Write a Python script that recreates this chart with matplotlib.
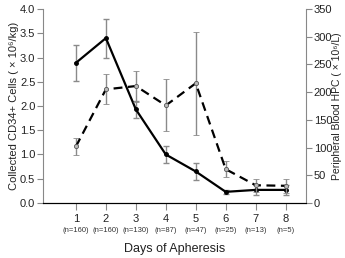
import matplotlib.pyplot as plt

plt.rcParams['font.family'] = ['Liberation Sans', 'DejaVu Sans']

# data
days = [1, 2, 3, 4, 5, 6, 7, 8]
n_labels = ['(n=160)', '(n=160)', '(n=130)', '(n=87)', '(n=47)', '(n=25)', '(n=13)', '(n=5)']
cd34 = [2.89, 3.40, 1.93, 1.00, 0.65, 0.23, 0.27, 0.27]
cd34_err = [0.37, 0.40, 0.18, 0.18, 0.17, 0.04, 0.10, 0.10]
hpc = [102, 205, 211, 176, 216, 61, 32, 31]
hpc_err = [15, 27, 28, 47, 93, 14, 12, 13]

fig = plt.figure(figsize=(3.45, 2.58), dpi=100)
ax = fig.add_axes([0.1246, 0.2132, 0.7623, 0.7519])
ax2 = ax.twinx()

ax.errorbar(days, cd34, yerr=cd34_err, color='black', lw=1.6, marker='o', ms=2.5,
            ecolor='#8a8a8a', elinewidth=1.0, capsize=2.5, capthick=1.0, zorder=3)
ax2.errorbar(days, hpc, yerr=hpc_err, color='black', lw=1.6, ls=(0, (4, 2.5)),
             marker='o', ms=3, mfc='#bbbbbb', mec='#555555', mew=0.6,
             ecolor='#8a8a8a', elinewidth=1.0, capsize=2.5, capthick=1.0, zorder=3)

ax.set_xlim(-0.1, 8.68)
ax.set_ylim(0, 4.0)
ax.set_yticks([0, 0.5, 1.0, 1.5, 2.0, 2.5, 3.0, 3.5, 4.0])
ax.set_yticklabels(['0.0', '0.5', '1.0', '1.5', '2.0', '2.5', '3.0', '3.5', '4.0'])
ax2.set_ylim(0, 350)
ax2.set_yticks(range(0, 351, 50))

ax.set_xticks(days)
ax.set_xticklabels([str(d) for d in days])
for d, lab in zip(days, n_labels):
    ax.text(d, -0.123, lab, transform=ax.get_xaxis_transform(), ha='center', va='top',
            fontsize=5.5, color='#333333')

for a in (ax, ax2):
    a.spines['top'].set_visible(False)
    a.tick_params(labelsize=8, length=4, width=0.8, colors='#888888',
                  labelcolor='#222222', pad=1.5)
ax.spines['right'].set_visible(False)
ax2.spines['left'].set_visible(False)
ax2.spines['right'].set_color('#888888')
ax.spines['left'].set_color('#888888')
ax.spines['bottom'].set_color('#111111')
ax.tick_params(axis='x', length=5, pad=3)

ax.set_xlabel('Days of Apheresis', fontsize=9, color='#222222')
ax.set_ylabel('Collected CD34+ Cells ( × 10⁶/kg)', fontsize=8, color='#222222')
ax.xaxis.set_label_coords(0.5, -0.205)
ax.yaxis.set_label_coords(-0.091, 0.5)

# right-hand label placed directly, centred in the gap right of the tick numbers
fig.text(337 / 345, 1 - 106 / 258, 'Peripheral Blood HPC ( × 10⁶/L)', rotation=90,
         ha='center', va='center', fontsize=7.5, color='#222222')

fig.savefig('out.png', dpi=100)
